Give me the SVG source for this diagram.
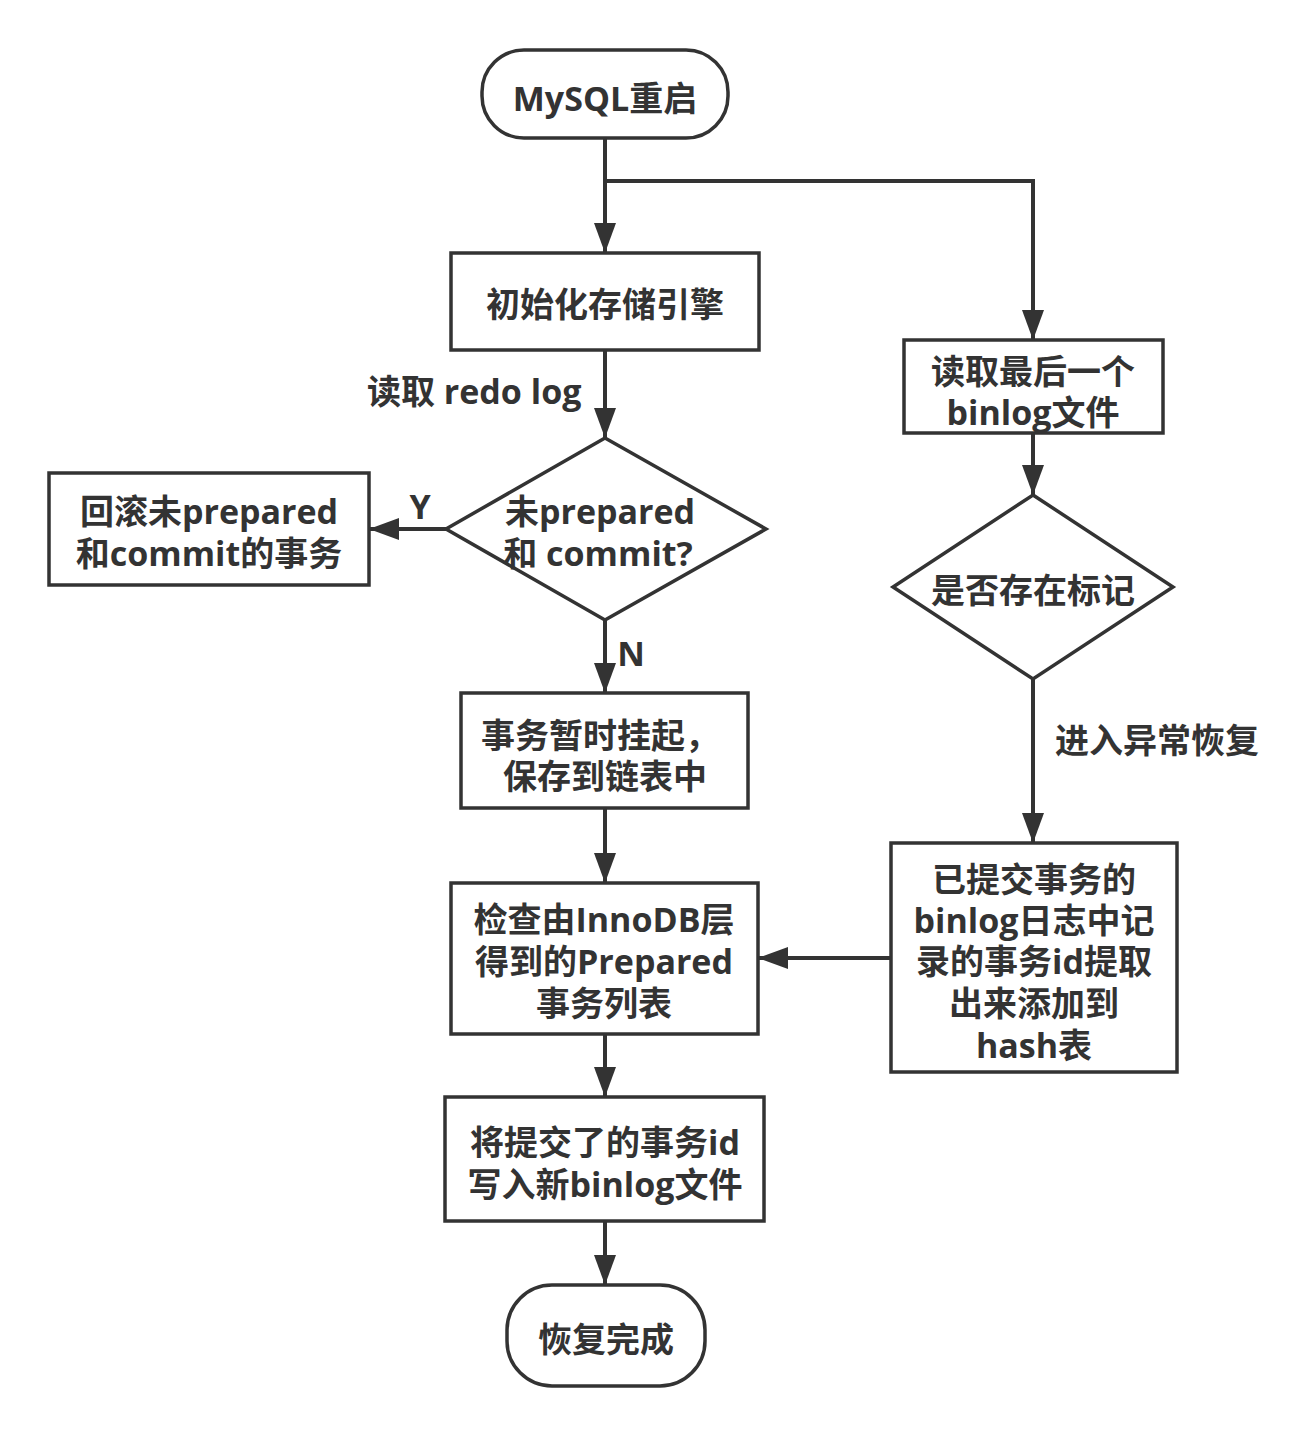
<svg xmlns="http://www.w3.org/2000/svg" width="1314" height="1436" viewBox="0 0 1314 1436">
<style>
.s{fill:#fff;stroke:#333;stroke-width:3.5}
.c{fill:none;stroke:#333;stroke-width:4}
text{font-family:"Open Sans","Noto Sans CJK SC",sans-serif;font-weight:bold;font-size:34px;fill:#333;text-anchor:middle}
.l{text-anchor:start}
</style>
<defs>
<marker id="a" markerUnits="userSpaceOnUse" markerWidth="30" markerHeight="22" refX="30" refY="11" orient="auto">
<path d="M0,0 L30,11 L0,22 z" fill="#333"/>
</marker>
</defs>
<rect width="1314" height="1436" fill="#fff"/>
<g id="connectors">
<path class="c" d="M605,138 V253" marker-end="url(#a)"/>
<path class="c" d="M605,181 H1033 V340" marker-end="url(#a)"/>
<path class="c" d="M605,350 V438" marker-end="url(#a)"/>
<path class="c" d="M446,529 H369" marker-end="url(#a)"/>
<path class="c" d="M605,620 V693" marker-end="url(#a)"/>
<path class="c" d="M605,808 V883" marker-end="url(#a)"/>
<path class="c" d="M605,1034 V1097" marker-end="url(#a)"/>
<path class="c" d="M605,1221 V1285" marker-end="url(#a)"/>
<path class="c" d="M1033,433 V495" marker-end="url(#a)"/>
<path class="c" d="M1033,679 V843" marker-end="url(#a)"/>
<path class="c" d="M891,958 H758" marker-end="url(#a)"/>
<text class="l" x="367" y="404">读取 redo log</text>
<text x="420" y="519">Y</text>
<text x="631" y="666">N</text>
<text class="l" x="1055" y="753">进入异常恢复</text>
</g>
<g id="start">
<rect class="s" x="482" y="50" width="246" height="88" rx="42"/>
<text x="605" y="111">MySQL重启</text>
</g>
<g id="init">
<rect class="s" x="451" y="253" width="308" height="97"/>
<text x="605" y="317">初始化存储引擎</text>
</g>
<g id="dec1">
<path class="s" d="M605,438 L766,529 L605,620 L446,529 z"/>
<text x="600" y="524">未prepared</text>
<text x="598" y="566">和 commit?</text>
</g>
<g id="rollback">
<rect class="s" x="49" y="473" width="320" height="112"/>
<text x="209" y="524">回滚未prepared</text>
<text x="209" y="566">和commit的事务</text>
</g>
<g id="suspend">
<rect class="s" x="461" y="693" width="287" height="115"/>
<text x="600" y="748">事务暂时挂起，</text>
<text x="605" y="789">保存到链表中</text>
</g>
<g id="check">
<rect class="s" x="451" y="883" width="307" height="151"/>
<text x="604" y="932">检查由InnoDB层</text>
<text x="604" y="974">得到的Prepared</text>
<text x="604" y="1016">事务列表</text>
</g>
<g id="write">
<rect class="s" x="445" y="1097" width="319" height="124"/>
<text x="605" y="1155">将提交了的事务id</text>
<text x="605" y="1197">写入新binlog文件</text>
</g>
<g id="end">
<rect class="s" x="507" y="1285" width="198" height="101" rx="45"/>
<text x="606" y="1352">恢复完成</text>
</g>
<g id="readbin">
<rect class="s" x="904" y="340" width="259" height="93"/>
<text x="1033" y="384">读取最后一个</text>
<text x="1033" y="425">binlog文件</text>
</g>
<g id="dec2">
<path class="s" d="M1033,495 L1173,587 L1033,679 L893,587 z"/>
<text x="1033" y="603">是否存在标记</text>
</g>
<g id="hash">
<rect class="s" x="891" y="843" width="286" height="229"/>
<text x="1034" y="892">已提交事务的</text>
<text x="1034" y="933">binlog日志中记</text>
<text x="1034" y="974">录的事务id提取</text>
<text x="1034" y="1016">出来添加到</text>
<text x="1034" y="1058">hash表</text>
</g>
</svg>
